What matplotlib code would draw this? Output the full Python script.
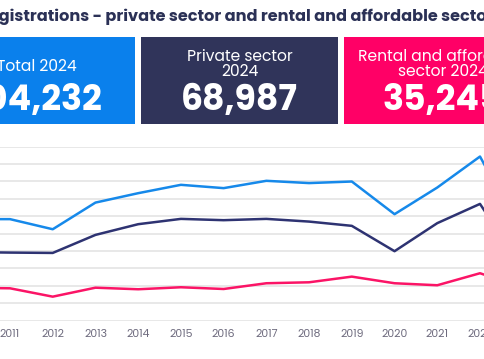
## Imports
import matplotlib
matplotlib.use("Agg")
import matplotlib.pyplot as plt
from matplotlib.patches import Rectangle

## Data
years = [2010, 2011, 2012, 2013, 2014, 2015, 2016, 2017, 2018, 2019, 2020, 2021, 2022, 2023, 2024]
total = [116600, 116600, 105000, 135600, 146400, 156000, 152200, 160600, 158000, 159800, 122300, 152900, 188500, 98000, 104232]
private_sector = [78800, 78200, 77800, 98500, 110800, 116900, 115400, 116900, 113800, 108900, 79800, 112000, 134100, 60000, 68987]
rental_affordable = [37800, 37200, 27600, 37900, 36100, 38400, 36400, 43000, 44100, 50600, 43000, 40700, 54500, 38000, 35245]

box_labels = ["Total 2024", "Private sector\n2024", "Rental and affordable\nsector 2024"]
box_values = ["104,232", "68,987", "35,245"]

title = "New home registrations - private sector and rental and affordable sector"

## Styling
BLUE = "#0a80ec"
NAVY = "#30345a"
PINK = "#ff0066"
LINE_BLUE = "#1689ea"
LINE_NAVY = "#2e3372"
LINE_PINK = "#fb1466"
TITLE_COLOR = "#2b3156"
TICK_COLOR = "#6e6b7e"
FONT = ["Poppins", "Inter", "DejaVu Sans"]

W, H = 485, 359


def px_x(x):
  return x / W


def px_y(y):
  # Convert a pixel y (from top) into a figure fraction.
  return 1 - y / H


def main():
  plt.rcParams["font.family"] = FONT
  fig = plt.figure(figsize=(W / 100, H / 100), dpi=100)

  # Title: the visible crop starts inside "registrations", so push the prefix off canvas.
  renderer = fig.canvas.get_renderer()
  probe = fig.text(0, 0, "New home re", fontsize=11.6, fontweight="bold")
  prefix_w = probe.get_window_extent(renderer).width
  probe.remove()
  fig.text(px_x(-prefix_w - 1), px_y(17), title, fontsize=11.6, fontweight="bold",
           color=TITLE_COLOR, ha="left", va="center")

  # Summary boxes (partly cut off at both edges).
  box_left = [-62, 141, 344]
  box_w = 197
  box_colors = [BLUE, NAVY, PINK]
  for left, label, value, color in zip(box_left, box_labels, box_values, box_colors):
    fig.patches.append(Rectangle((px_x(left), px_y(123.5)), box_w / W, (123.5 - 36.5) / H,
                                 transform=fig.transFigure, facecolor=color, edgecolor="none"))
    cx = px_x(left + box_w / 2)
    label_y = 67 if "\n" not in label else 64.5
    fig.text(cx, px_y(label_y), label, fontsize=11.2, fontweight="normal", color="white",
             ha="center", va="center", linespacing=0.95)
    fig.text(cx, px_y(101.5), value, fontsize=25, fontweight="bold", color="white",
             ha="center", va="center")

  # Line chart: 2011 sits at x=10px and 2022 at x=480px.
  step = (480 - 10) / 11
  x0 = 10 - step
  x1 = 10 + step * 13
  ax = fig.add_axes([px_x(x0), px_y(320.7), (x1 - x0) / W, (320.7 - 146.5) / H])
  ax.plot(years, total, color=LINE_BLUE, linewidth=1.8)
  ax.plot(years, private_sector, color=LINE_NAVY, linewidth=1.8)
  ax.plot(years, rental_affordable, color=LINE_PINK, linewidth=1.8)

  ax.set_xlim(2010, 2024)
  ax.set_ylim(0, 200000)
  ax.set_yticks(range(0, 200001, 20000))
  ax.set_xticks(years)
  ax.tick_params(axis="x", length=0, pad=6, labelsize=7.8, labelcolor=TICK_COLOR)
  ax.tick_params(axis="y", length=0, labelleft=False)
  ax.grid(axis="y", color="#e4e4e4", linewidth=1.2)
  ax.set_axisbelow(True)
  for spine in ax.spines.values():
    spine.set_visible(False)

  fig.savefig("out.png", dpi=100)


if __name__ == "__main__":
  main()
